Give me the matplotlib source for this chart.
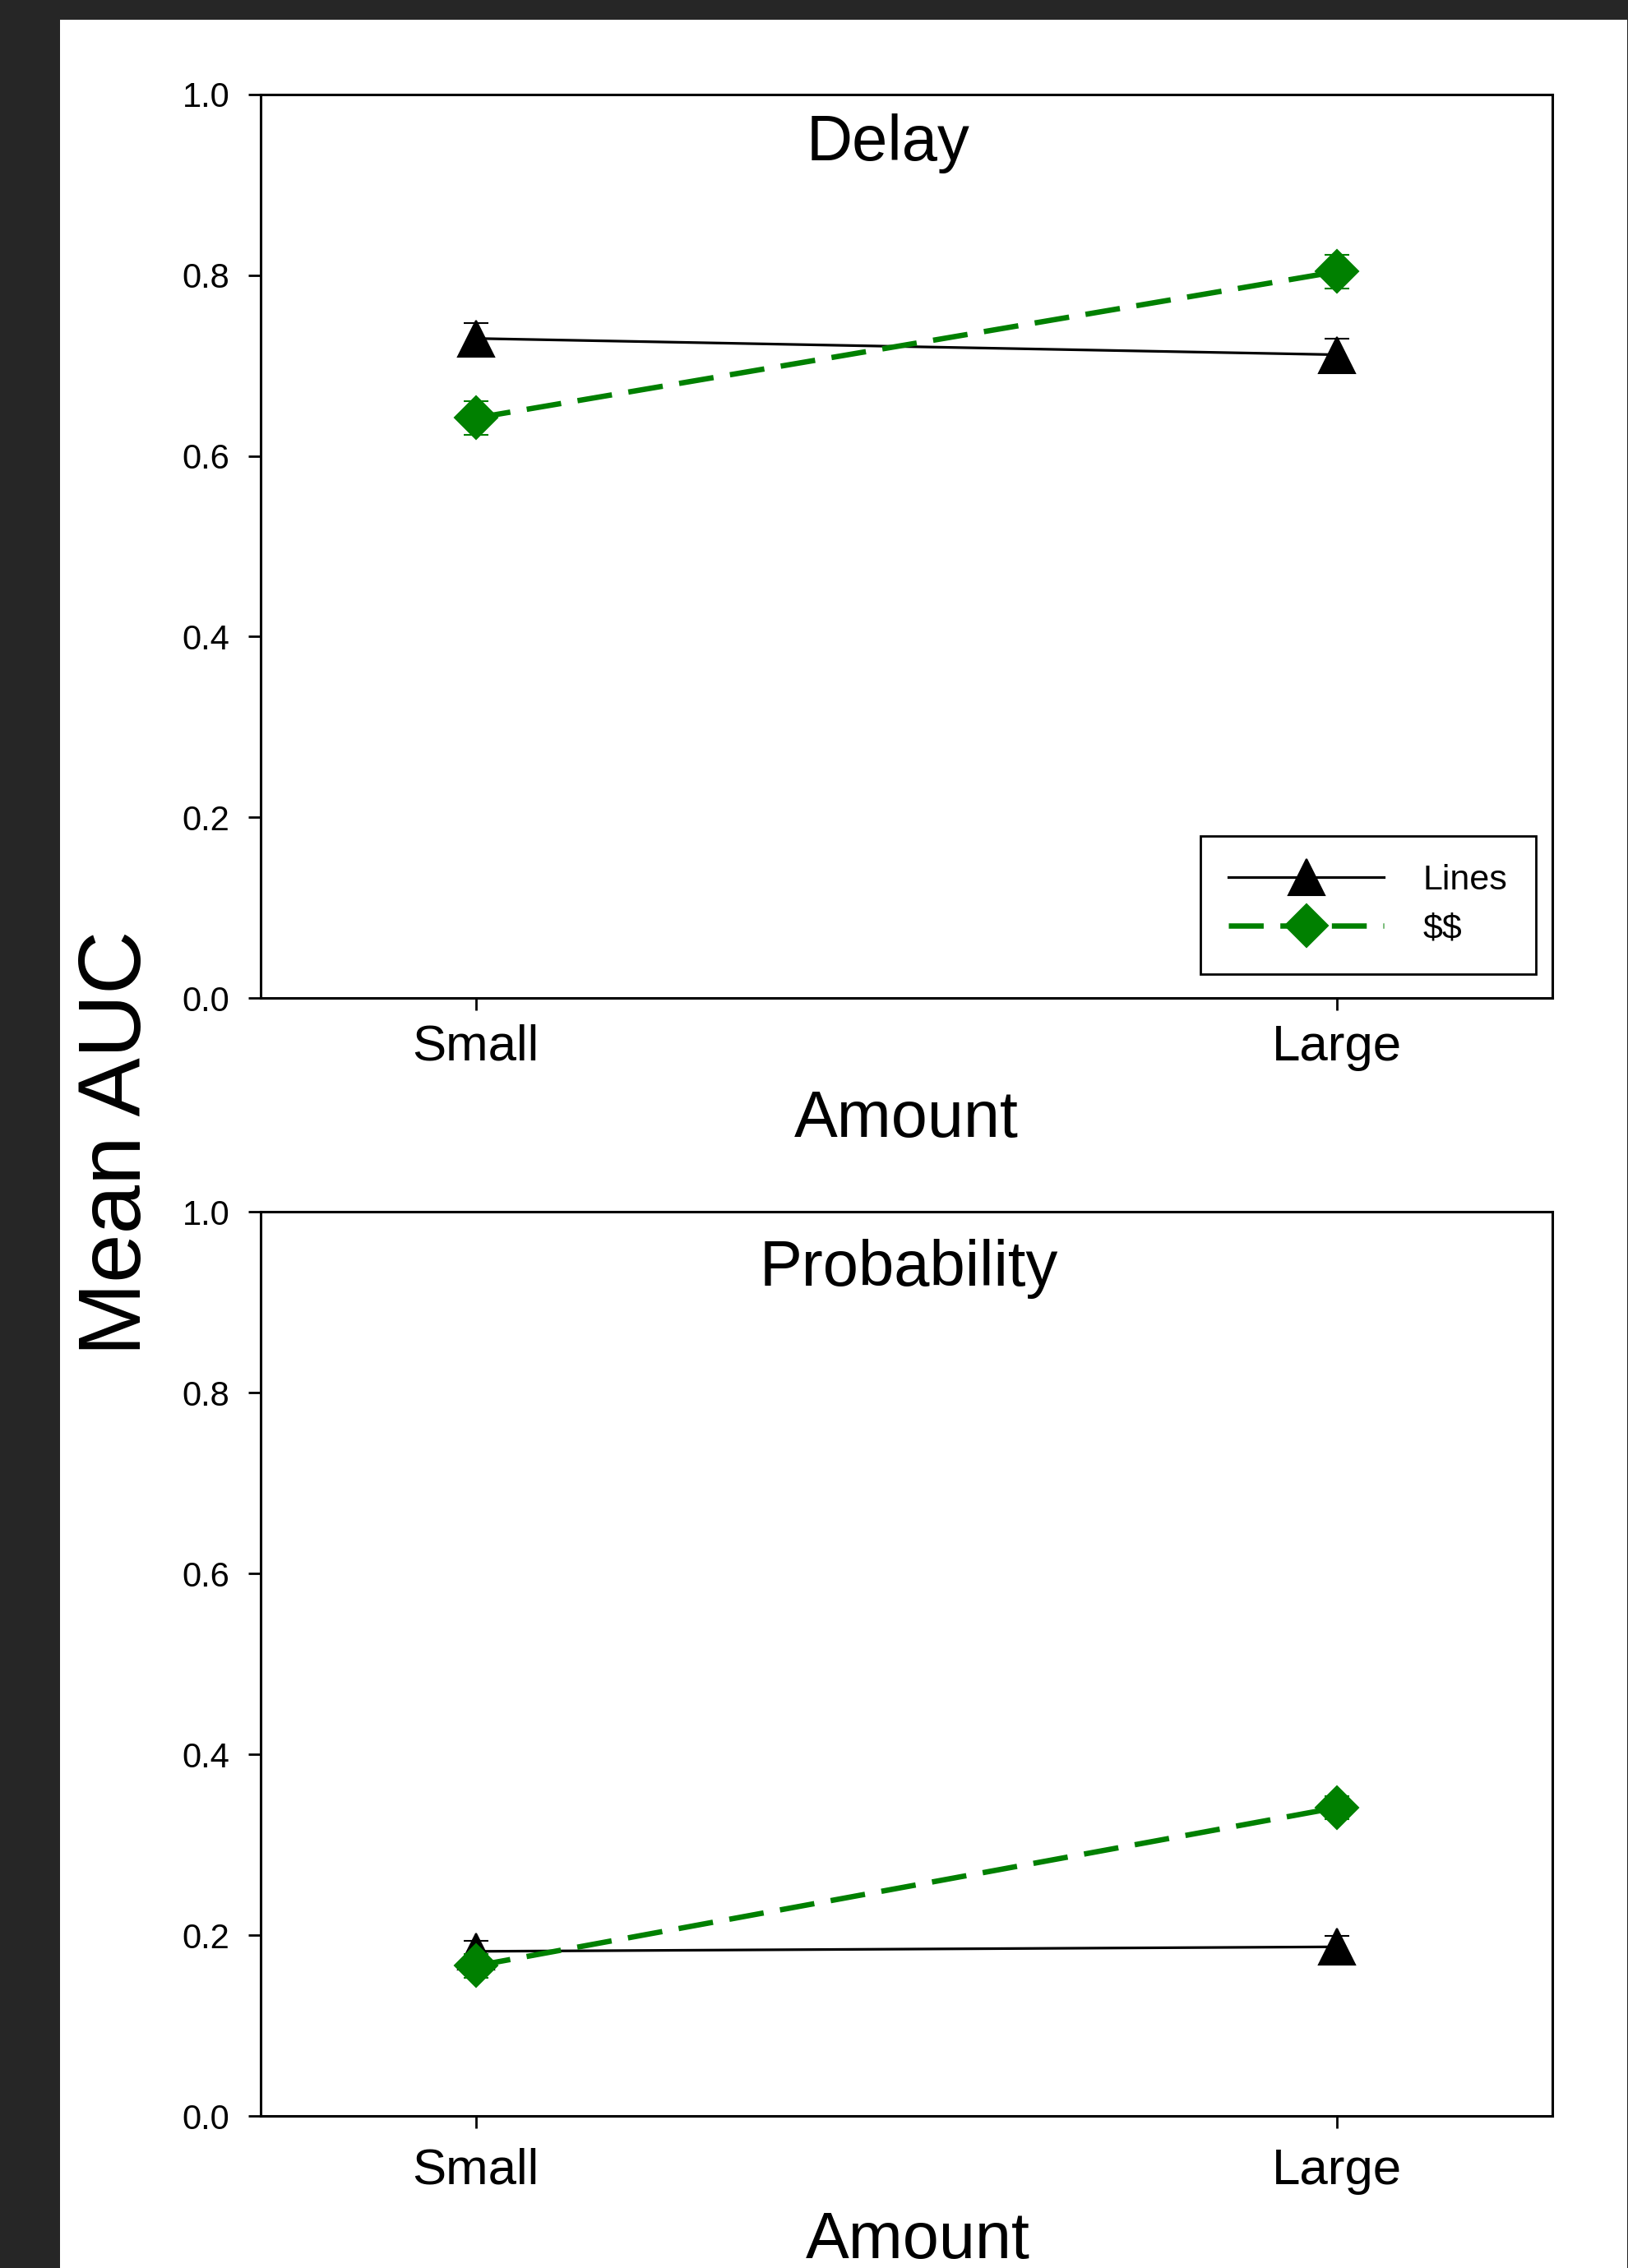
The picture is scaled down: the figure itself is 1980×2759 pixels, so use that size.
"""Mean AUC by amount for delay and probability discounting (Lines vs $$)."""

import matplotlib
matplotlib.use("Agg")
import matplotlib.pyplot as plt  # noqa: E402
from matplotlib.patches import Rectangle  # noqa: E402
import numpy as np  # noqa: E402

plt.rcParams["font.family"] = ["Liberation Sans", "DejaVu Sans"]
plt.rcParams["text.parse_math"] = False

# --- data ---
categories = ["Small", "Large"]
panelTitles = ["Delay", "Probability"]
seriesNames = ["Lines", "$$"]

delayLines = [0.730, 0.712]
delayLinesErr = [0.017, 0.018]
delayMoney = [0.642, 0.804]
delayMoneyErr = [0.019, 0.019]

probLines = [0.182, 0.187]
probLinesErr = [0.012, 0.012]
probMoney = [0.166, 0.341]
probMoneyErr = [0.013, 0.013]

yTicks = [0.0, 0.2, 0.4, 0.6, 0.8, 1.0]

GREEN = "#008000"
W, H = 1981, 2759


def styleAxes(ax, xpad):
    for s in ax.spines.values():
        s.set_linewidth(2.2)
        s.set_color("black")
    ax.set_xlim(-0.25, 1.25)
    ax.set_ylim(0, 1)
    ax.set_xticks(np.arange(len(categories)))
    ax.set_xticklabels(categories)
    ax.set_yticks(yTicks)
    ax.set_yticklabels([f"{v:.1f}" for v in yTicks])
    ax.tick_params(axis="x", direction="out", length=11, width=2, labelsize=44.5, pad=xpad)
    ax.tick_params(axis="y", direction="out", length=11, width=2, labelsize=30, pad=16)
    ax.tick_params(top=False, right=False)


def drawPanel(ax, lines, linesErr, money, moneyErr):
    x = np.arange(len(categories))
    a = ax.errorbar(x, lines, yerr=linesErr, color="black", lw=2.3, marker="^", ms=31,
                    mec="black", mew=1.5, ecolor="black", elinewidth=2, capsize=11,
                    capthick=2.2, label=seriesNames[0], zorder=3)
    b = ax.errorbar(x, money, yerr=moneyErr, color=GREEN, lw=4.7, ls=(0, (6.5, 3.1)),
                    marker="D", ms=26, mec=GREEN, mew=1.5, ecolor=GREEN, elinewidth=2,
                    capsize=11, capthick=2.2, label=seriesNames[1], zorder=4)
    return [a[0], b[0]]


def main():
    fig = plt.figure(figsize=(W / 100, H / 100), dpi=100, facecolor="#262626")
    fig.patches.append(Rectangle((73 / W, 0), (1979 - 73) / W, (H - 24) / H,
                                 transform=fig.transFigure, facecolor="white",
                                 edgecolor="none", zorder=-10))

    axTop = fig.add_axes([317 / W, 1 - 1214 / H, (1888 - 317) / W, (1214 - 115) / H])
    axBot = fig.add_axes([317 / W, 1 - 2574 / H, (1888 - 317) / W, (2574 - 1474) / H])

    handles = drawPanel(axTop, delayLines, delayLinesErr, delayMoney, delayMoneyErr)
    drawPanel(axBot, probLines, probLinesErr, probMoney, probMoneyErr)

    for ax, title, tx, ty, lx, ly, xpad in [
            (axTop, panelTitles[0], 0.486, 0.927, 0.5, -0.154, 12),
            (axBot, panelTitles[1], 0.502, 0.918, 0.509, -0.157, 17)]:
        styleAxes(ax, xpad)
        ax.text(tx, ty, title, transform=ax.transAxes, ha="center", va="baseline", fontsize=56)
        ax.text(lx, ly, "Amount", transform=ax.transAxes, ha="center", va="baseline", fontsize=57)

    leg = axTop.legend(handles, seriesNames, loc="lower right", bbox_to_anchor=(0.9873, 0.0264),
                       borderaxespad=0, fontsize=31, numpoints=1, handlelength=4.4,
                       handletextpad=1.1, borderpad=0.8, labelspacing=0.45,
                       fancybox=False, framealpha=1)
    leg.get_frame().set_edgecolor("black")
    leg.get_frame().set_linewidth(2)

    fig.text(143 / W, 1 - 1390 / H, "Mean AUC", rotation=90, ha="center", va="center", fontsize=77)

    fig.savefig("out.png", dpi=100, facecolor=fig.get_facecolor())


if __name__ == "__main__":
    main()
